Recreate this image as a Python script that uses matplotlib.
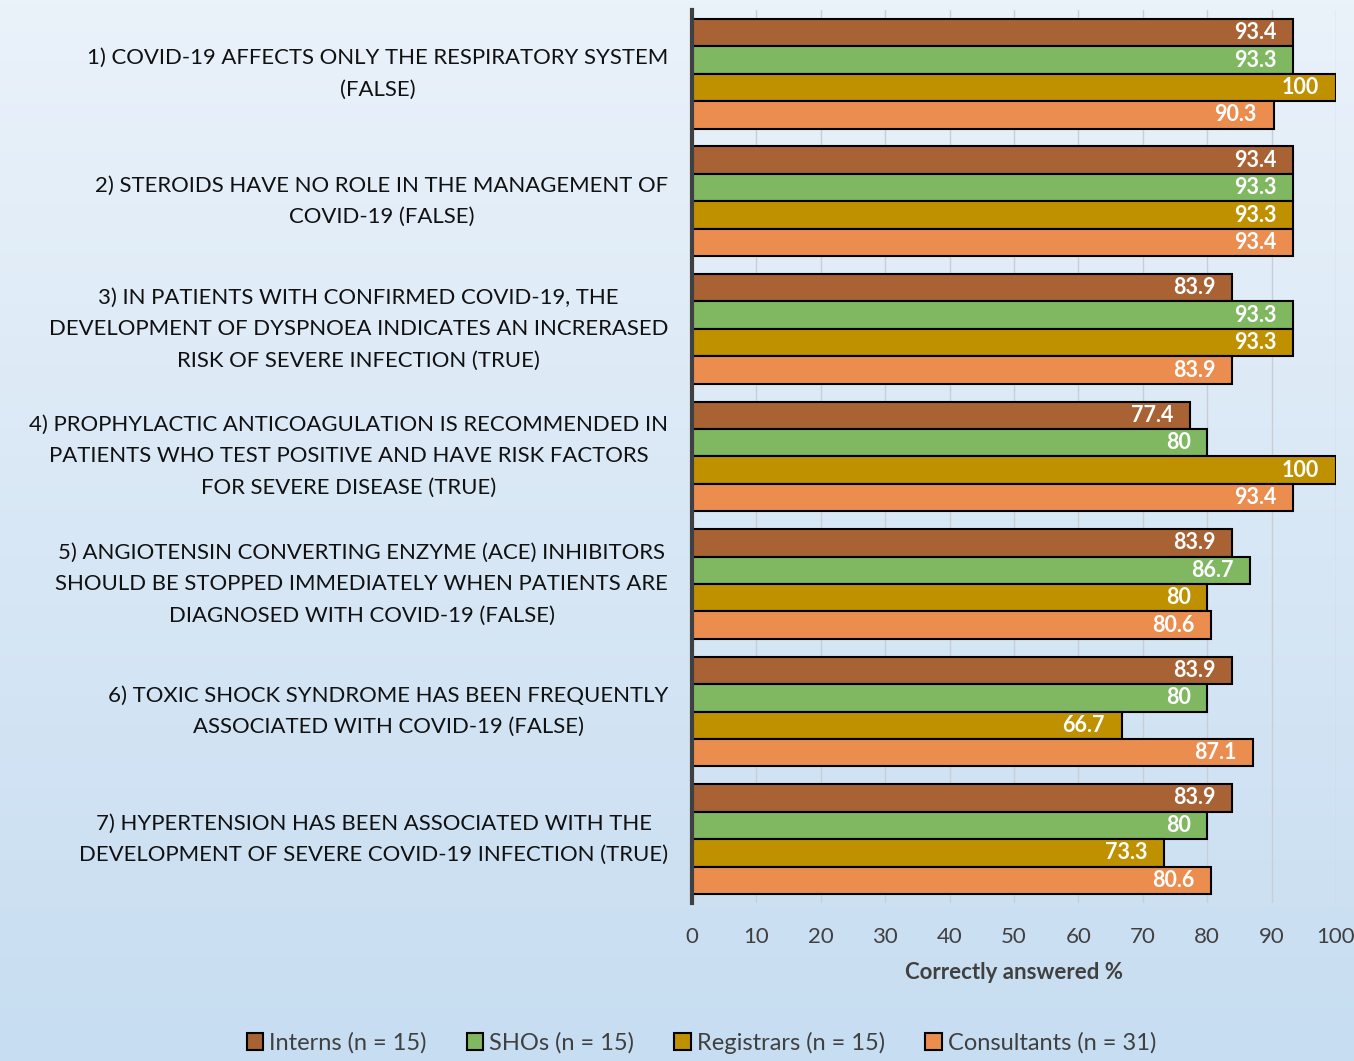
import numpy as np
import matplotlib
matplotlib.use('Agg')
import matplotlib.pyplot as plt
from matplotlib.patches import Patch

plt.rcParams['font.family'] = ['Lato', 'DejaVu Sans']

#questions (top to bottom)
questions = ['1) COVID-19 AFFECTS ONLY THE RESPIRATORY SYSTEM\n(FALSE)',
             '2) STEROIDS HAVE NO ROLE IN THE MANAGEMENT OF\nCOVID-19 (FALSE)',
             '3) IN PATIENTS WITH CONFIRMED COVID-19, THE\nDEVELOPMENT OF DYSPNOEA INDICATES AN INCRERASED\nRISK OF SEVERE INFECTION (TRUE)',
             '4) PROPHYLACTIC ANTICOAGULATION IS RECOMMENDED IN\nPATIENTS WHO TEST POSITIVE AND HAVE RISK FACTORS\nFOR SEVERE DISEASE (TRUE)',
             '5) ANGIOTENSIN CONVERTING ENZYME (ACE) INHIBITORS\nSHOULD BE STOPPED IMMEDIATELY WHEN PATIENTS ARE\nDIAGNOSED WITH COVID-19 (FALSE)',
             '6) TOXIC SHOCK SYNDROME HAS BEEN FREQUENTLY\nASSOCIATED WITH COVID-19 (FALSE)',
             '7) HYPERTENSION HAS BEEN ASSOCIATED WITH THE\nDEVELOPMENT OF SEVERE COVID-19 INFECTION (TRUE)']

groups = ['Interns (n = 15)', 'SHOs (n = 15)', 'Registrars (n = 15)', 'Consultants (n = 31)']

interns = [93.4, 93.4, 83.9, 77.4, 83.9, 83.9, 83.9]
shos = [93.3, 93.3, 93.3, 80, 86.7, 80, 80]
registrars = [100, 93.3, 93.3, 100, 80, 66.7, 73.3]
consultants = [90.3, 93.4, 83.9, 93.4, 80.6, 87.1, 80.6]

colors = ['#A86233', '#80B862', '#BF9000', '#EC8D50']

fig = plt.figure(figsize=(13.54, 10.61), dpi=100)

#background gradient
bg = fig.add_axes([0, 0, 1, 1], zorder=-1)
grad = np.linspace(0, 1, 256).reshape(-1, 1)
top = np.array([234, 242, 250]) / 255
bot = np.array([199, 221, 241]) / 255
img = top[None, None, :] * (1 - grad[:, :, None]) + bot[None, None, :] * grad[:, :, None]
bg.imshow(img, aspect='auto', extent=[0, 1, 0, 1])
bg.axis('off')

ax = fig.add_axes([0.511, 0.149, 0.4757, 0.8416])
ax.set_facecolor('none')

n = len(questions)
h = 0.215
ypos = np.arange(n)
series = [interns, shos, registrars, consultants]
for k, vals in enumerate(series):
    y = ypos - 1.5 * h + k * h
    ax.barh(y, vals, height=h, color=colors[k], edgecolor='black', linewidth=1.5, zorder=3)
    for yy, v in zip(y, vals):
        txt = '%g' % v
        ax.annotate(txt, (v, yy), textcoords='offset points', xytext=(-12, 0),
                    ha='right', va='center', color='white', fontweight='bold', fontsize=15.5, zorder=4)

ax.set_ylim(n - 0.5, -0.5)
ax.set_xlim(0, 100)
ax.set_xticks(np.arange(0, 101, 10))
ax.set_yticks(ypos)
ax.set_yticklabels(questions, fontsize=15.9, color='#111111', multialignment='center',
                   linespacing=1.72, va='center')
ax.tick_params(axis='y', length=0, pad=17)
ax.tick_params(axis='x', length=0, pad=17, labelsize=16, labelcolor='#404040')
ax.grid(axis='x', color='#C8CED6', linewidth=1, zorder=0)
for s in ['top', 'right', 'bottom']:
    ax.spines[s].set_visible(False)
ax.spines['left'].set_color('#404040')
ax.spines['left'].set_linewidth(3)
ax.spines['left'].set_zorder(5)
ax.set_xlabel('Correctly answered %', fontsize=16, fontweight='bold', color='#404040', labelpad=11)

handles = [Patch(facecolor=c, edgecolor='black', linewidth=1.5) for c in colors]
fig.legend(handles, groups, loc='center', bbox_to_anchor=(0.518, 0.017), ncol=4, frameon=False,
           fontsize=17, labelcolor='#404040', handlelength=0.7, handleheight=0.7,
           handletextpad=0.25, columnspacing=1.7)

plt.savefig('out.png', dpi=100)
